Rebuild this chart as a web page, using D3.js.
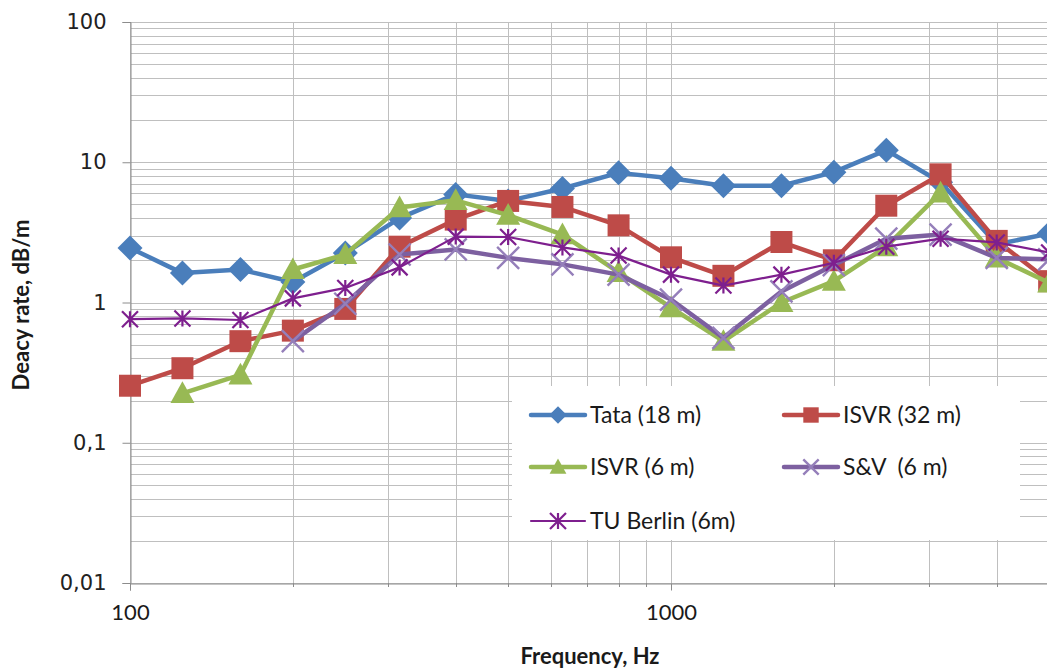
<!DOCTYPE html>
<html>
<head>
<meta charset="utf-8">
<script src="https://cdn.jsdelivr.net/npm/d3@7/dist/d3.min.js"></script>
<style>
  html, body { margin: 0; padding: 0; background: #ffffff; }
  svg { display: block; }
</style>
</head>
<body>
<svg id="chart" width="1047" height="668"></svg>
<script>
// One-third-octave band centre frequencies (Hz)
const frequencies = [100, 125, 160, 200, 250, 315, 400, 500, 630, 800, 1000, 1250, 1600, 2000, 2500, 3150, 4000, 5000];

// Track decay rates, dB/m (null = no measurement in that band)
const tata18 = [2.45, 1.62, 1.72, 1.4, 2.25, 4.0, 5.9, 5.3, 6.5, 8.4, 7.7, 6.8, 6.8, 8.5, 12.2, 7.2, 2.6, 3.1];
const isvr32 = [0.255, 0.34, 0.53, 0.63, 0.9, 2.5, 3.9, 5.3, 4.8, 3.55, 2.1, 1.55, 2.7, 2.0, 4.9, 8.2, 2.75, 1.42];
const isvr6  = [null, 0.225, 0.305, 1.72, 2.2, 4.75, 5.35, 4.2, 3.05, 1.64, 0.92, 0.53, 1.0, 1.42, 2.5, 6.05, 2.08, 1.38];
const sv6    = [null, null, null, 0.53, 0.98, 2.2, 2.39, 2.08, 1.87, 1.58, 1.05, 0.56, 1.2, 1.85, 2.85, 3.05, 2.08, 2.03];
const tub6   = [0.76, 0.77, 0.75, 1.07, 1.27, 1.78, 2.95, 2.93, 2.47, 2.16, 1.58, 1.32, 1.58, 1.92, 2.5, 2.85, 2.68, 2.27];

const seriesNames = ["Tata (18 m)", "ISVR (32 m)", "ISVR (6 m)", "S&V  (6 m)", "TU Berlin (6m)"];
const seriesValues = [tata18, isvr32, isvr6, sv6, tub6];

const yTickValues = [0.01, 0.1, 1, 10, 100];
const yTickLabels = ["0,01", "0,1", "1", "10", "100"];
const xTickValues = [100, 1000];
const xTickLabels = ["100", "1000"];

const styles = [
  { color: "#4A7EBB", width: 4.5, marker: "diamond",  size: 25 },
  { color: "#BE4B48", width: 4.5, marker: "square",   size: 22 },
  { color: "#98B954", width: 4.5, marker: "triangle", size: 24 },
  { color: "#7D60A0", width: 4.5, marker: "cross",    size: 22 },
  { color: "#7E1F8E", width: 2.2, marker: "asterisk", size: 16 }
];

const svg = d3.select("#chart");
const plot = { left: 130, top: 22, bottom: 583 };
const decade = 541;

const x = d3.scaleLog().domain([100, 10000]).range([plot.left, plot.left + 2 * decade]);
const y = d3.scaleLog().domain([0.01, 100]).range([plot.bottom, plot.top]);

const gridColor = "#BFBFBF";

// Horizontal grid: every 1..9 step inside each decade
const yGrid = [];
[0.01, 0.1, 1, 10].forEach(d => { for (let k = 1; k <= 9; k++) yGrid.push(d * k); });
yGrid.push(100);
svg.append("g").selectAll("line").data(yGrid).join("line")
  .attr("x1", plot.left).attr("x2", 1047)
  .attr("y1", d => Math.round(y(d)) + 0.5).attr("y2", d => Math.round(y(d)) + 0.5)
  .attr("stroke", gridColor).attr("stroke-width", 1);

// Vertical grid
const xGrid = [];
[100, 1000].forEach(d => { for (let k = 1; k <= 9; k++) xGrid.push(d * k); });
svg.append("g").selectAll("line").data(xGrid).join("line")
  .attr("x1", d => Math.round(x(d)) + 0.5).attr("x2", d => Math.round(x(d)) + 0.5)
  .attr("y1", plot.top).attr("y2", plot.bottom)
  .attr("stroke", gridColor).attr("stroke-width", 1);

// Y axis
const yAxis = d3.axisLeft(y).tickValues(yTickValues)
  .tickFormat((d, i) => yTickLabels[i]).tickSize(8).tickPadding(16);
const gy = svg.append("g").attr("transform", `translate(${plot.left + 0.5},0)`).call(yAxis);
gy.select(".domain").attr("stroke", "#8C8C8C");
gy.selectAll(".tick line").attr("stroke", "#8C8C8C");
gy.selectAll(".tick text").attr("font-family", "DejaVu Sans, Verdana, sans-serif")
  .attr("font-size", 21).attr("fill", "#222222");

// X axis: labelled decades, short minor ticks
const xAxis = d3.axisBottom(x).tickValues(xTickValues)
  .tickFormat((d, i) => xTickLabels[i]).tickSize(7).tickPadding(14);
const gx = svg.append("g").attr("transform", `translate(0,${plot.bottom + 0.5})`).call(xAxis);
gx.select(".domain").attr("stroke", "#8C8C8C");
gx.selectAll(".tick line").attr("stroke", "#8C8C8C");
gx.selectAll(".tick text").attr("font-family", "Lato, sans-serif")
  .attr("font-size", 22).attr("fill", "#1a1a1a");
const minorX = xGrid.filter(d => !xTickValues.includes(d));
svg.append("g").selectAll("line").data(minorX).join("line")
  .attr("x1", d => Math.round(x(d)) + 0.5).attr("x2", d => Math.round(x(d)) + 0.5)
  .attr("y1", plot.bottom).attr("y2", plot.bottom + 4)
  .attr("stroke", "#8C8C8C");

// Marker shapes
function markerPath(type, s) {
  const h = s / 2;
  switch (type) {
    case "diamond": return `M0,${-h}L${h},0L0,${h}L${-h},0Z`;
    case "square": return `M${-h},${-h}H${h}V${h}H${-h}Z`;
    case "triangle": return `M0,${-h * 1.0}L${h},${h * 0.8}L${-h},${h * 0.8}Z`;
    case "cross": return `M${-h},${-h}L${h},${h}M${-h},${h}L${h},${-h}`;
    case "asterisk": return `M${-h},${-h}L${h},${h}M${-h},${h}L${h},${-h}M0,${-h}V${h}`;
  }
}
function drawMarker(sel, st, scale) {
  const s = st.size * scale;
  if (st.marker === "cross") {
    sel.append("path").attr("d", markerPath("cross", s))
      .attr("fill", "none").attr("stroke", "#957FBA").attr("stroke-width", 2.4);
  } else if (st.marker === "asterisk") {
    sel.append("path").attr("d", markerPath("asterisk", s))
      .attr("fill", "none").attr("stroke", st.color).attr("stroke-width", 2.2);
  } else {
    sel.append("path").attr("d", markerPath(st.marker, s)).attr("fill", st.color);
  }
}

// Series: lines then markers, in series order
const line = d3.line()
  .defined(d => d.v != null)
  .x(d => x(d.f)).y(d => y(d.v));

seriesValues.forEach((vals, i) => {
  const st = styles[i];
  const pts = frequencies.map((f, j) => ({ f, v: vals[j] }));
  const g = svg.append("g").attr("class", "series");
  g.append("path").datum(pts).attr("d", line)
    .attr("fill", "none").attr("stroke", st.color).attr("stroke-width", st.width)
    .attr("stroke-linejoin", "round");
  g.selectAll("g.m").data(pts.filter(d => d.v != null)).join("g")
    .attr("class", "m")
    .attr("transform", d => `translate(${x(d.f)},${y(d.v)})`)
    .each(function () { drawMarker(d3.select(this), st, 1); });
});

// Legend
const legend = svg.append("g");
legend.append("rect").attr("x", 512).attr("y", 386).attr("width", 508).attr("height", 154)
  .attr("fill", "#ffffff");
const legendPos = [[531, 415], [784, 415], [531, 467], [784, 467], [531, 521]];
seriesNames.forEach((name, i) => {
  const st = styles[i];
  const [lx, ly] = legendPos[i];
  const g = legend.append("g").attr("transform", `translate(${lx},${ly})`);
  g.append("line").attr("x1", 0).attr("x2", 54).attr("y1", 0).attr("y2", 0)
    .attr("stroke", st.color).attr("stroke-width", st.width).attr("stroke-linecap", "round");
  const m = g.append("g").attr("transform", "translate(27,0)");
  drawMarker(m, st, st.marker === "asterisk" ? 1 : 0.7);
  g.append("text").attr("x", 59).attr("y", 0).attr("dy", "0.35em")
    .attr("font-family", "Lato, sans-serif").attr("font-size", 23).attr("fill", "#1a1a1a")
    .attr("xml:space", "preserve").text(name);
});

// Axis titles
svg.append("text").attr("x", 590).attr("y", 664).attr("text-anchor", "middle")
  .attr("font-family", "Lato, sans-serif").attr("font-weight", "bold").attr("font-size", 22)
  .attr("fill", "#1a1a1a").text("Frequency, Hz");
svg.append("text").attr("transform", "translate(29,305) rotate(-90)").attr("text-anchor", "middle")
  .attr("font-family", "Lato, sans-serif").attr("font-weight", "bold").attr("font-size", 22)
  .attr("fill", "#1a1a1a").text("Deacy rate, dB/m");
</script>
</body>
</html>
